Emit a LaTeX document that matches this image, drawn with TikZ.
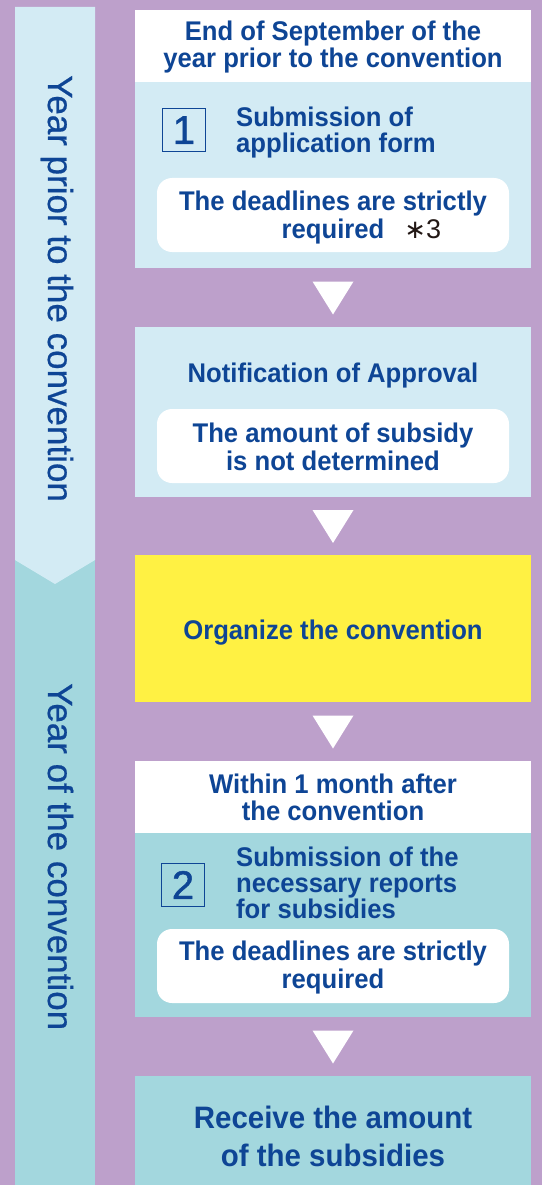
\documentclass[tikz,border=0pt]{standalone}
\usepackage{fontspec}
\setmainfont{Liberation Sans}
\newfontfamily\cond{Liberation Sans}[FakeStretch=0.95]
\newfontfamily\plainf{Liberation Sans}
\newfontfamily\symf{DejaVu Sans}
\newfontfamily\sidef{Liberation Sans}[FakeBold=0.6]
\newfontfamily\numf{Liberation Sans}[FakeBold=1.2]
\usetikzlibrary{calc}
\definecolor{bgpurple}{HTML}{BDA0CB}
\definecolor{lblue}{HTML}{D3EBF4}
\definecolor{teal2}{HTML}{A3D7DE}
\definecolor{yel}{HTML}{FFF143}
\definecolor{tblue}{HTML}{0E4595}
\definecolor{ink}{HTML}{231815}
\tikzset{
  stage/.style={rectangle, minimum width=396pt, inner sep=0pt, anchor=north west, outer sep=0pt},
  txt/.style={text=tblue, align=center, font=\cond\bfseries\fontsize{27}{27}\selectfont, inner sep=0pt},
  lefttxt/.style={text=tblue, align=left, font=\cond\bfseries\fontsize{27}{26}\selectfont, inner sep=0pt, anchor=west},
  note/.style={rectangle, rounded corners=15pt, fill=white, minimum width=352pt, minimum height=74pt, inner sep=0pt,
     text=tblue, align=center, font=\cond\bfseries\fontsize{27}{28}\selectfont},
  numbox/.style={rectangle, draw=tblue, line width=1.3pt, minimum width=43pt, minimum height=43pt, inner sep=0pt,
     text=tblue, font=\numf\fontsize{40}{40}\selectfont},
  sidetxt/.style={text=tblue, font=\sidef\fontsize{35}{35}\selectfont, rotate=-90, anchor=base west, inner sep=0pt},
  flowtri/.style={fill=white}
}
\newcommand\flowarrow[2]{\fill[flowtri] ($(#1.south)!0.5!(#2.north)+(-20.5,-16)$) -- ($(#1.south)!0.5!(#2.north)+(20.5,-16)$) -- ($(#1.south)!0.5!(#2.north)+(0,17)$) -- cycle;}
\newcommand\starthree{{\mdseries\color{ink}{\symf\fontsize{26}{26}\selectfont ∗}{\plainf 3}}}
\begin{document}
\begin{tikzpicture}[x=1pt,y=-1pt]
\fill[bgpurple] (0,0) rectangle (542,1185);
\useasboundingbox (0,0) rectangle (542,1185);
% left bar
\fill[teal2] (15,540) rectangle (95,1185);
\fill[lblue] (15,7) -- (95,7) -- (95,560) -- (55,584) -- (15,560) -- cycle;
\node[sidetxt] (y1) at (48,75) {Year prior to the convention};
\node[sidetxt] (y2) at (48,683) {Year of the convention};
% stage boxes
\node[stage, fill=white, minimum height=72pt] (h1) at (135,10) {};
\node[stage, fill=lblue, minimum height=186pt] (s1) at (135,82) {};
\node[stage, fill=lblue, minimum height=170pt] (s2) at (135,327) {};
\node[stage, fill=yel, minimum height=147pt] (s3) at (135,555) {};
\node[stage, fill=white, minimum height=72pt] (h4) at (135,761) {};
\node[stage, fill=teal2, minimum height=184pt] (s4) at (135,833) {};
\node[stage, fill=teal2, minimum height=109pt] (s5) at (135,1076) {};
% texts
\node[txt, yshift=-1.5pt] (t1) at (h1.center) {End of September of the\\year prior to the convention};
\node[numbox] (n1) at (184,130) {1};
\node[lefttxt] (t1b) at (236,133) {Submission of\\application form};
\node[note] (r1) at (333,215) {};
\node[txt, font=\cond\bfseries\fontsize{27}{28}\selectfont] (r1t) at (333,218) {The deadlines are strictly\\\phantom{\hspace{20pt}\starthree}required\hspace{20pt}\starthree};
\node[txt] (t2) at (333,376) {Notification of Approval};
\node[note] (r2) at (333,446) {};
\node[txt, font=\cond\bfseries\fontsize{27}{28}\selectfont] (r2t) at (333,447) {The amount of subsidy\\is not determined};
\node[txt] (t3) at ($(s3.center)+(0,4)$) {Organize the convention};
\node[txt] (t4) at (h4.center) {Within 1 month after\\the convention};
\node[numbox] (n2) at (183,885) {2};
\node[lefttxt] (t4b) at (236,883) {Submission of the\\necessary reports\\for subsidies};
\node[note] (r4) at (333,966) {};
\node[txt, font=\cond\bfseries\fontsize{27}{28}\selectfont] (r4t) at (333,968) {The deadlines are strictly\\required};
\node[txt, font=\cond\bfseries\fontsize{31}{38}\selectfont] (t5) at (333,1136) {Receive the amount\\of the subsidies};
% arrows
\flowarrow{s1}{s2}
\flowarrow{s2}{s3}
\flowarrow{s3}{h4}
\flowarrow{s4}{s5}
\end{tikzpicture}
\end{document}
